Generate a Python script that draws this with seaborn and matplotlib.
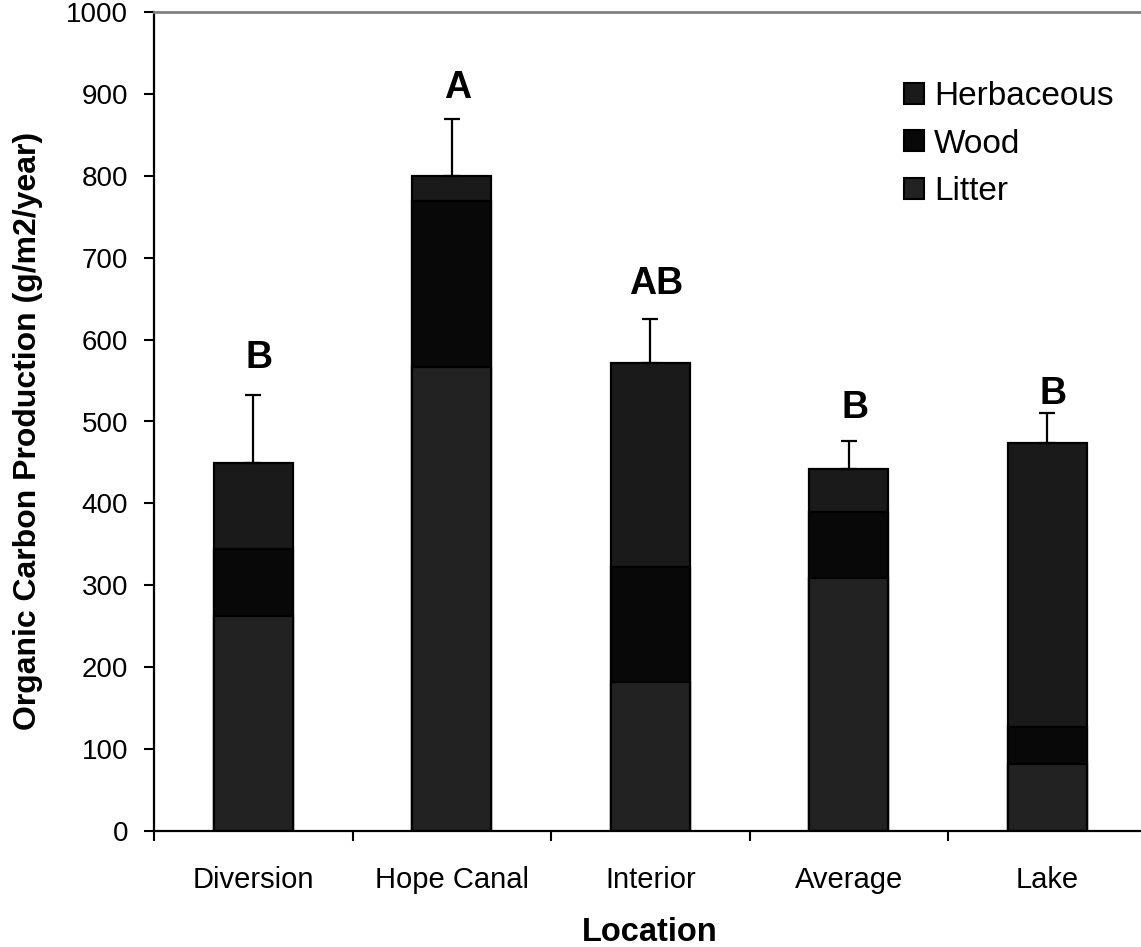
import matplotlib
matplotlib.use("Agg")
import matplotlib.pyplot as plt
from matplotlib.patches import Patch
from matplotlib.ticker import FixedLocator, NullFormatter
import numpy as np
import pandas as pd
import seaborn as sns

# Organic carbon production by location (g/m2/year), stacked by source
locations = ["Diversion", "Hope Canal", "Interior", "Average", "Lake"]
litter = [262, 567, 182, 309, 82]
wood = [82, 202, 140, 81, 45]
herbaceous = [105, 31, 250, 52, 347]
std_err = [83, 69, 53, 34, 36]
letters = ["B", "A", "AB", "B", "B"]
letter_y = [565, 895, 656, 504, 521]
y_ticks = [0, 100, 200, 300, 400, 500, 600, 700, 800, 900, 1000]

colors = {"Herbaceous": "#1a1a1a", "Wood": "#080808", "Litter": "#222222"}

df = pd.DataFrame({
    "Location": locations,
    "Litter": litter,
    "Wood": wood,
    "Herbaceous": herbaceous,
    "SE": std_err,
})
df["LitterTop"] = df["Litter"]
df["WoodTop"] = df["Litter"] + df["Wood"]
df["Total"] = df["WoodTop"] + df["Herbaceous"]

sns.set_style("ticks")
plt.rcParams["font.family"] = ["Liberation Sans", "DejaVu Sans"]
plt.rcParams["text.color"] = "black"
plt.rcParams["axes.labelcolor"] = "black"
plt.rcParams["xtick.color"] = "black"
plt.rcParams["ytick.color"] = "black"

fig = plt.figure(figsize=(11.41, 9.47), dpi=100)
ax = fig.add_axes([154 / 1141, 1 - 831 / 947, 992.5 / 1141, 819 / 947])

# Stacked bars drawn back-to-front from cumulative heights
for col, name in [("Total", "Herbaceous"), ("WoodTop", "Wood"), ("LitterTop", "Litter")]:
    sns.barplot(data=df, x="Location", y=col, order=locations, color=colors[name],
                saturation=1, width=0.4, edgecolor="black", linewidth=1.6,
                errorbar=None, ax=ax)

xpos = np.arange(len(locations))
ax.errorbar(xpos, df["Total"], yerr=[np.zeros(len(xpos)), df["SE"]], fmt="none",
            ecolor="black", elinewidth=1.6, capsize=6, capthick=1.6, zorder=1)

for x, lab, y in zip(xpos, letters, letter_y):
    ax.text(x + 0.03, y, lab, ha="center", va="baseline", fontsize=27,
            fontweight="bold", color="black")

ax.set_xlim(-0.5, len(locations) - 0.5)
ax.set_ylim(0, 1000)
ax.set_yticks(y_ticks)
ax.tick_params(axis="y", direction="out", length=7.5, width=1.5, labelsize=20,
               pad=11, colors="black")
ax.tick_params(axis="x", which="major", length=0, labelsize=21, pad=25,
               colors="black")
ax.xaxis.set_minor_locator(FixedLocator(np.arange(-0.5, len(locations), 1.0)))
ax.xaxis.set_minor_formatter(NullFormatter())
ax.tick_params(axis="x", which="minor", direction="out", length=7.5, width=1.5,
               color="black")

ax.set_xlabel("Location", fontsize=23.5, fontweight="bold", labelpad=17,
              color="black")
ax.set_ylabel("Organic Carbon Production (g/m2/year)", fontsize=23,
              fontweight="bold", color="black")
ax.yaxis.set_label_coords(-0.112, 0.488)

for side in ["left", "bottom"]:
    ax.spines[side].set_color("black")
    ax.spines[side].set_linewidth(1.6)
ax.spines["top"].set_color("#808080")
ax.spines["top"].set_linewidth(2)
ax.spines["right"].set_visible(False)

handles = [Patch(facecolor=colors[n], edgecolor="black", linewidth=1.5, label=n)
           for n in ["Herbaceous", "Wood", "Litter"]]
fig.legend(handles=handles, loc="upper left", bbox_to_anchor=(904 / 1141, 1 - 81 / 947),
           frameon=False, fontsize=24, handlelength=0.6, handleheight=0.6,
           handletextpad=0.3, labelspacing=0.5, borderpad=0, borderaxespad=0)

fig.savefig("out.png", dpi=100, facecolor="white")
